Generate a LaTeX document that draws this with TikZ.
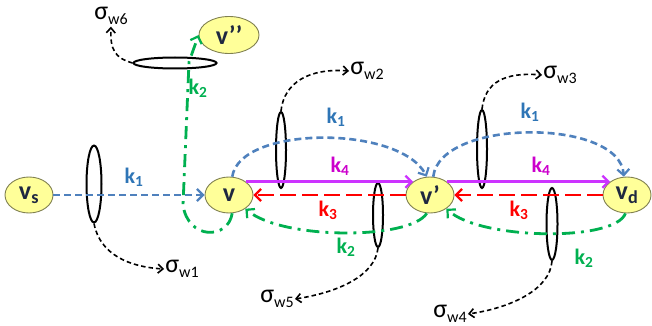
\documentclass[tikz,border=0pt]{standalone}
\usepackage{fontspec}
\setmainfont{Carlito}
\usetikzlibrary{shapes.geometric,arrows.meta}
\definecolor{kblue}{RGB}{79,129,189}
\definecolor{kbluet}{RGB}{46,117,182}
\definecolor{kpurp}{RGB}{204,51,255}
\definecolor{kpurpt}{RGB}{204,0,204}
\definecolor{kred}{RGB}{255,0,0}
\definecolor{kgreen}{RGB}{0,176,80}
\definecolor{nfill}{RGB}{255,255,153}
\definecolor{nline}{RGB}{128,128,80}
\definecolor{ntext}{RGB}{31,40,64}
\newcommand\sigl[1]{σ\raisebox{-5pt}{\fontsize{16}{16}\selectfont #1}}
\begin{document}
\begin{tikzpicture}[x=1pt,y=-1pt,
  vtx/.style={ellipse,draw=nline,fill=nfill,line width=0.9pt,minimum width=48pt,minimum height=36pt,inner sep=0pt,font=\fontsize{26}{28}\selectfont\bfseries,text=ntext},
  ring/.style={ellipse,draw=black,line width=2pt,inner sep=0pt},
  tipa/.style={-{Straight Barb[length=6pt,width=12pt,line width=2.2pt]}},
  kone/.style={kblue,line width=2.6pt,dash pattern=on 7pt off 4pt,tipa},
  kfour/.style={kpurp,line width=2.6pt,tipa},
  kthree/.style={kred,line width=2.8pt,dash pattern=on 16pt off 6pt,tipa},
  ktwo/.style={kgreen,line width=2.8pt,dash pattern=on 13pt off 6pt on 3pt off 6pt,tipa},
  sdash/.style={black,line width=1.6pt,dash pattern=on 4.5pt off 3pt,-{Straight Barb[length=5pt,width=9pt,line width=1.6pt]}},
  lab/.style={font=\fontsize{22}{24}\selectfont\bfseries,inner sep=0pt},
  sig/.style={font=\fontsize{26}{28}\selectfont,inner sep=1pt,text=black,text height=13pt,text depth=6pt}]
\useasboundingbox (0,0) rectangle (652,326);
% vertices
\node[vtx] (vs) at (29,195) {v\textsubscript{s}};
\node[vtx] (v) at (229,195) {v};
\node[vtx] (vp) at (430,195) {v’};
\node[vtx] (vd) at (627,195) {v\textsubscript{d}};
\node[vtx,minimum width=60pt,minimum height=37pt] (vpp) at (229,35) {v’’};
% rings
\node[ring,minimum width=15pt,minimum height=77pt] (e1) at (94,184) {};
\node[ring,minimum width=10pt,minimum height=76pt] (e2) at (281,150) {};
\node[ring,minimum width=10pt,minimum height=78pt] (e3) at (482,149) {};
\node[ring,minimum width=10pt,minimum height=64pt] (e4) at (378,215) {};
\node[ring,minimum width=11pt,minimum height=72pt] (e5) at (552,224) {};
\node[ring,minimum width=83pt,minimum height=11pt] (e6) at (175,63) {};
% sigma labels
\node[sig] (s1) at (182,269) {\sigl{w1}};
\node[sig] (s2) at (367,71) {\sigl{w2}};
\node[sig] (s3) at (560,75) {\sigl{w3}};
\node[sig] (s4) at (450,314) {\sigl{w4}};
\node[sig] (s5) at (277,299) {\sigl{w5}};
\node[sig] (s6) at (111,16) {\sigl{w6}};
% k1
\draw[kone] (vs.east) -- (v.west);
\draw[kone] (v.80) .. controls (240,125) and (400,125) .. (vp.100);
\draw[kone] (vp.80) .. controls (440,118) and (620,118) .. (vd.100);
% k4
\draw[kfour] (v.38) -- (vp.142);
\draw[kfour] (vp.38) -- (vd.142);
% k3
\draw[kthree] (vd.west) -- (vp.east);
\draw[kthree] (vp.west) -- (v.east);
% k2
\draw[ktwo] (vd.-95) .. controls (615,242) and (480,240) .. (vp.-40);
\draw[ktwo] (vp.-100) .. controls (410,240) and (282,240) .. (v.-40);
\draw[ktwo] (v.-80) .. controls (228,240) and (188,240) .. (183,205) -- (189,62) -- (vpp.west);
% sigma connectors
\draw[sdash] (e1.south) .. controls (100,255) and (130,267) .. (s1.west);
\draw[sdash] (e2.north) .. controls (284,82) and (310,68) .. (s2.west);
\draw[sdash] (e3.north) .. controls (485,82) and (505,72) .. (s3.west);
\draw[sdash] (e4.south) .. controls (375,275) and (340,292) .. (s5.east);
\draw[sdash] (e5.south) .. controls (550,290) and (510,308) .. (s4.east);
\draw[sdash] (e6.west) .. controls (115,58) and (110,50) .. (s6.south);
% k labels
\node[lab,text=kbluet] (l1) at (134,177) {k\textsubscript{1}};
\node[lab,text=kbluet] (l2) at (336,117) {k\textsubscript{1}};
\node[lab,text=kbluet] (l3) at (530,112) {k\textsubscript{1}};
\node[lab,text=kpurpt] (l4) at (340,166) {k\textsubscript{4}};
\node[lab,text=kpurpt] (l5) at (541,166) {k\textsubscript{4}};
\node[lab,text=kred] (l6) at (328,210) {k\textsubscript{3}};
\node[lab,text=kred] (l7) at (519,210) {k\textsubscript{3}};
\node[lab,text=kgreen] (l8) at (346,247) {k\textsubscript{2}};
\node[lab,text=kgreen] (l9) at (584,258) {k\textsubscript{2}};
\node[lab,text=kgreen] (l10) at (198,88) {k\textsubscript{2}};
\end{tikzpicture}
\end{document}
